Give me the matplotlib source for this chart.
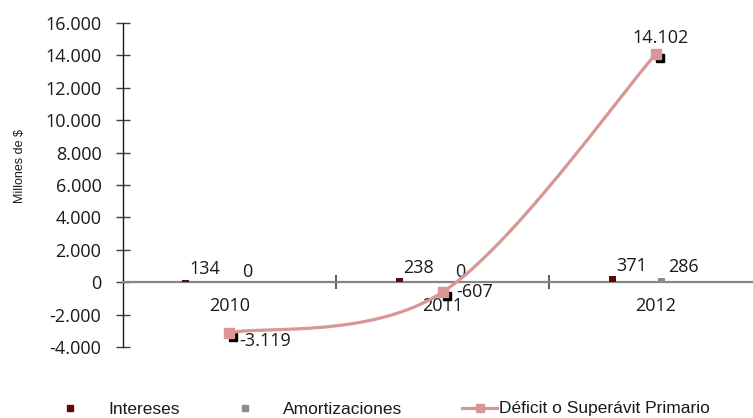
import numpy as np
import matplotlib
matplotlib.use('Agg')
import matplotlib.pyplot as plt
from matplotlib.lines import Line2D
from matplotlib.transforms import offset_copy

plt.rcParams['font.family'] = ['Open Sans', 'DejaVu Sans']

years = ['2010', '2011', '2012']
intereses = [134, 238, 371]
amortizaciones = [0, 0, 286]
deficit = [-3119, -607, 14102]

c_int = '#5C0B0B'
c_amo = '#8C8C8C'
c_def = '#D99694'
c_txt = '#1a1a1a'
narrow = ['Liberation Sans Narrow', 'Liberation Sans']

def fmt(v):
    return '{:,.0f}'.format(v).replace(',', '.')

def smooth(xs, ys, n=80):
    # excel-like smoothed line (bezier, tension 1/6)
    p = np.column_stack([xs, ys]).astype(float)
    out = []
    for i in range(len(p) - 1):
        p0 = p[max(i - 1, 0)]
        p1 = p[i]
        p2 = p[i + 1]
        p3 = p[min(i + 2, len(p) - 1)]
        c1 = p1 + (p2 - p0) / 6
        c2 = p2 - (p3 - p1) / 6
        t = np.linspace(0, 1, n)[:, None]
        out.append((1-t)**3*p1 + 3*(1-t)**2*t*c1 + 3*(1-t)*t**2*c2 + t**3*p2)
    out = np.vstack(out)
    return out[:, 0], out[:, 1]

fig = plt.figure(figsize=(7.53, 4.18), dpi=100)
ax = fig.add_axes([0.163, 0.170, 0.850, 0.775])

x = np.arange(len(years))
bw = 0.033
x_int = x - 0.204
x_amo = x + 0.026
ax.bar(x_int, intereses, width=bw, color=c_int, zorder=3)
ax.bar(x_amo, amortizaciones, width=bw, color=c_amo, zorder=3)

for xi, v in zip(x_int, intereses):
    ax.annotate(fmt(v), (xi, v), xytext=(2.5, 4), textcoords='offset points',
                ha='left', va='baseline', fontsize=13, color=c_txt)
for xi, v in zip(x_amo, amortizaciones):
    ax.annotate(fmt(v), (xi, v), xytext=(5, 4), textcoords='offset points',
                ha='left', va='baseline', fontsize=13, color=c_txt)

# shadow markers
shadow = offset_copy(ax.transData, fig=fig, x=4, y=-4.5, units='dots')
ax.plot(x, deficit, 's', color='black', markersize=6, transform=shadow, zorder=4)

sx, sy = smooth(x, deficit)
ax.plot(sx, sy, color=c_def, lw=2.3, zorder=5, solid_capstyle='round')
ax.plot(x, deficit, 's', color=c_def, markersize=7, zorder=6)

lbl_pos = [((7, -6), 'left', 'center'), ((10, 0), 'left', 'center'), ((3, 8), 'center', 'baseline')]
for xi, v, (off, ha, va) in zip(x, deficit, lbl_pos):
    ax.annotate(fmt(v), (xi, v), xytext=off, textcoords='offset points',
                ha=ha, va=va, fontsize=13, color=c_txt, zorder=7)

ax.set_xlim(-0.5, 2.5)
ax.set_ylim(-4000, 16000)
yt = np.arange(-4000, 16001, 2000)
ax.set_yticks(yt)
ax.set_yticklabels([fmt(v) for v in yt])
ax.tick_params(axis='y', direction='inout', length=9.6, width=1, color='#404040',
               pad=10.5, labelsize=13, labelcolor=c_txt)

ax.set_xticks(x)
ax.set_xticklabels(years)
ax.set_xticks([0.5, 1.5], minor=True)
ax.tick_params(axis='x', which='major', length=0, pad=11, labelsize=13, labelcolor=c_txt)
ax.tick_params(axis='x', which='minor', direction='inout', length=9.6, width=1.2, color='#404040')

for s in ['top', 'right']:
    ax.spines[s].set_visible(False)
ax.spines['bottom'].set_position(('data', 0))
ax.spines['bottom'].set_color('#868686')
ax.spines['bottom'].set_linewidth(1.6)
ax.spines['left'].set_color(c_txt)
ax.spines['left'].set_linewidth(1)

fig.text(20 / 753, 1 - 166 / 418, 'Millones de $', rotation=90, ha='center', va='center',
         family=narrow, fontsize=9, color=c_txt)

# legend
ly = 1 - 408 / 418
ty = 1 - 409 / 418
fig.add_artist(Line2D([70 / 753], [ly], marker='s', color=c_int, markersize=4.5, ls='none'))
fig.text(108 / 753, ty, 'Intereses', ha='left', va='center',
         family=narrow, fontsize=12.5, color=c_txt)
fig.add_artist(Line2D([244.5 / 753], [ly], marker='s', color=c_amo, markersize=4.5, ls='none'))
fig.text(283 / 753, ty, 'Amortizaciones', ha='left', va='center',
         family=narrow, fontsize=12.5, color=c_txt)
fig.add_artist(Line2D([462 / 753, 497 / 753], [ly, ly], color=c_def, lw=2.3))
fig.add_artist(Line2D([479.5 / 753], [ly], marker='s', color=c_def, markersize=6, ls='none'))
fig.text(499 / 753, ty, 'Déficit o Superávit Primario', ha='left', va='center',
         family=narrow, fontsize=12.5, color=c_txt)

fig.savefig('out.png', dpi=100)
